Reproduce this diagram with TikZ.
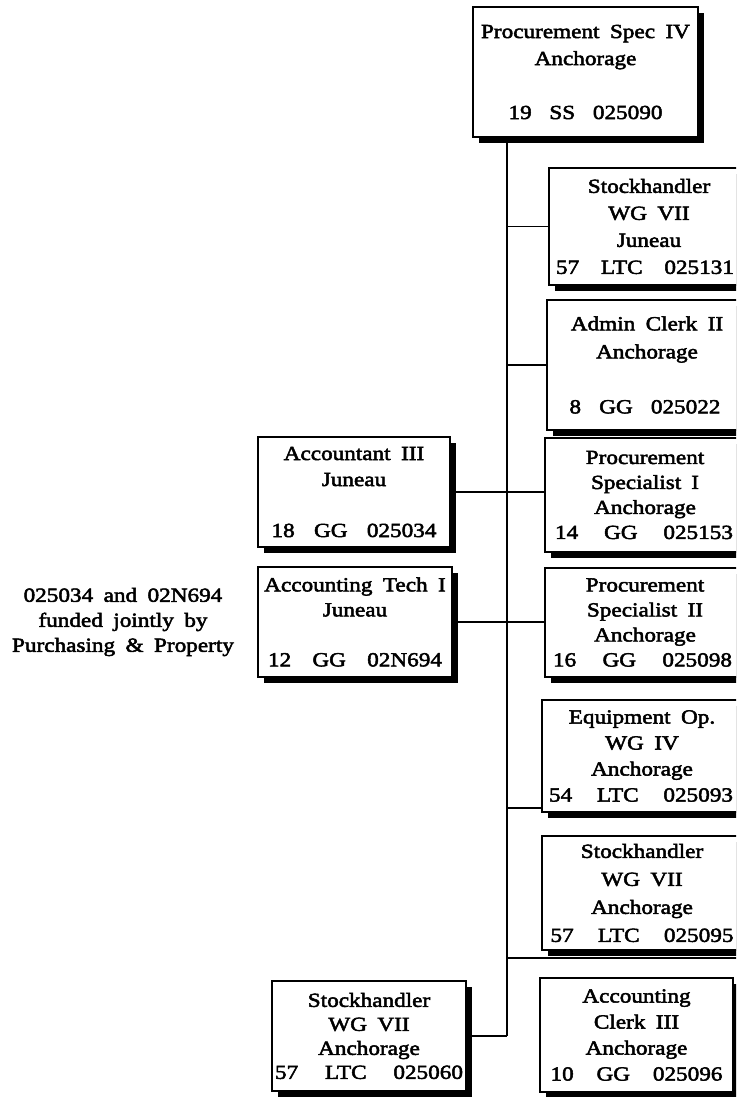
\documentclass[tikz,border=0pt]{standalone}
\usepackage{fontspec}
\setmainfont{Liberation Serif}[FakeStretch=1.16, FakeBold=2.5, WordSpace=1.8]
\usetikzlibrary{shadows}
\tikzset{
  box/.style={draw, line width=1.4pt, fill=white, inner sep=0pt, align=center,
    drop shadow={shadow xshift=6pt, shadow yshift=-6pt, fill=black, opacity=1}},
  ls/.style={font=\fontsize{20}{#1}\selectfont},
  conn/.style={draw, line width=1.8pt},
  note/.style={align=center, font=\fontsize{20}{25}\selectfont}
}
\begin{document}
\begin{tikzpicture}[x=1pt,y=-1pt]
\useasboundingbox (0,0) rectangle (736,1097);
\clip (0,0) rectangle (736,1097);
\fill[white] (0,0) rectangle (736,1097);

% top box
\node[box, ls=27, minimum width=225pt, minimum height=130pt] (top) at (585.5,72)
  {Procurement Spec IV\\Anchorage\\[27pt]\hbox to 154pt{19\hfil SS\hfil 025090}};

% right column
\node[box, ls=27, minimum width=200pt, minimum height=117pt] (shj) at (649,226.5)
  {Stockhandler\\WG VII\\Juneau\\\hbox to 186pt{57\hfil LTC\hfil 025131\hskip 8pt}};
\node[box, ls=28, minimum width=200pt, minimum height=130pt] (adm) at (647,365)
  {Admin Clerk II\\Anchorage\\[27pt]\hbox to 155pt{8\hfil GG\hfil 025022\hskip 4pt}};
\node[box, ls=25, minimum width=200pt, minimum height=114pt] (ps1) at (645,495)
  {Procurement\\Specialist\enspace I\\Anchorage\\\hbox to 180pt{14\hfil GG\hfil 025153\hskip 2pt}};
\node[box, ls=25, minimum width=200pt, minimum height=109pt] (ps2) at (645,622.5)
  {Procurement\\Specialist II\\Anchorage\\\hbox to 184pt{16\hfil GG\hfil 025098\hskip 5pt}};
\node[box, ls=26, minimum width=200pt, minimum height=112pt] (eqp) at (642,756)
  {Equipment Op.\\WG IV\\Anchorage\\\hbox to 186pt{54\hfil LTC\hfil 025093\hskip 2pt}};
\node[box, ls=28, minimum width=200pt, minimum height=114pt] (sh2) at (642,893)
  {Stockhandler\\WG VII\\Anchorage\\\hbox to 183pt{57\hfil LTC\hfil 025095}};
\node[box, ls=26, minimum width=193pt, minimum height=114pt] (acl) at (636.5,1035)
  {Accounting\\Clerk III\\Anchorage\\\hbox to 172pt{10\hfil GG\hfil 025096}};

% left column
\node[box, ls=26, minimum width=192pt, minimum height=110pt] (acct) at (354,492)
  {Accountant III\\Juneau\\[25pt]\hbox to 165pt{18\hfil GG\hfil 025034}};
\node[box, ls=25, minimum width=194pt, minimum height=110pt] (tech) at (355,622)
  {Accounting Tech I\\Juneau\\[25pt]\hbox to 174pt{12\hfil GG\hfil 02N694}};
\node[box, ls=24, minimum width=194pt, minimum height=110pt] (bl) at (369,1036)
  {Stockhandler\\WG VII\\Anchorage\\\hbox to 188pt{57\hfil LTC\hfil 025060}};

% note
\node[note] (nt) at (123,622)
  {025034 and 02N694\\funded jointly by\\Purchasing \& Property};

% connectors
\coordinate (tb) at (507,1036);
\coordinate (e95) at (740,958);
\draw[conn] (top.south -| tb) -- (tb);
\draw[conn] (shj.west) -- (shj.west -| tb);
\draw[conn] (adm.west) -- (adm.west -| tb);
\draw[conn] (acct.east) -- (acct.east -| ps1.west);
\draw[conn] (tech.east) -- (tech.east -| ps2.west);
\draw[conn] ([yshift=5pt]eqp.south west) -- ([yshift=5pt]eqp.south west -| tb);
\draw[conn] (e95 -| tb) -- (e95);
\draw[conn] (bl.east) -- (tb);
\end{tikzpicture}
\end{document}
